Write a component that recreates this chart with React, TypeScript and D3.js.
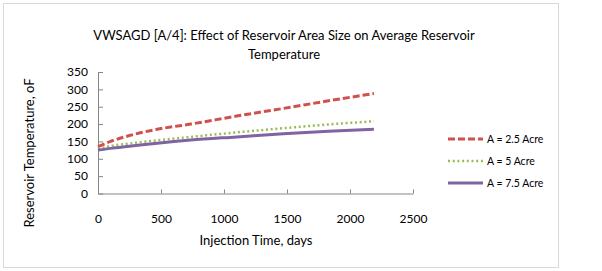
import React, { useEffect, useRef } from 'react';
import * as d3 from 'd3';

// injection time, days
const days = [0, 100, 250, 470, 736, 1100, 1470, 1830, 2190];
// average reservoir temperature, oF
const area25 = [135, 150, 167, 185, 200, 223, 245, 267, 288];
const area5 = [128, 137, 144, 153, 163, 176, 188, 199, 208];
const area75 = [125, 130, 136, 145, 154, 163, 172, 179, 185];

const seriesNames = ['A = 2.5 Acre', 'A = 5 Acre', 'A = 7.5 Acre'];
const xTicks = [0, 500, 1000, 1500, 2000, 2500];
const yTicks = [0, 50, 100, 150, 200, 250, 300, 350];

const titleLines = ['VWSAGD [A/4]: Effect of Reservoir Area Size on Average Reservoir', 'Temperature'];
const xTitle = 'Injection Time, days';
const yTitle = 'Reservoir Temperature, oF';

const FONT = 'Lato, "Open Sans", sans-serif';

const App = () => {
  const ref = useRef<SVGSVGElement>(null);

  useEffect(() => {
    const svg = d3.select(ref.current);
    svg.selectAll('*').remove();

    // chart frame
    svg.append('rect')
      .attr('x', 3.5).attr('y', 3.5)
      .attr('width', 555).attr('height', 264)
      .attr('fill', '#fff')
      .attr('stroke', '#d9d9d9');

    const x = d3.scaleLinear().domain([0, 2500]).range([98, 413]);
    const y = d3.scaleLinear().domain([0, 350]).range([193.5, 72]);

    // axes
    const xAxis = svg.append('g')
      .attr('transform', `translate(0,${y(0)})`)
      .call(d3.axisBottom(x).tickValues(xTicks).tickFormat(d3.format('d'))
        .tickSizeInner(-4).tickSizeOuter(0).tickPadding(21));
    const yAxis = svg.append('g')
      .attr('transform', `translate(${x(0)},0)`)
      .call(d3.axisLeft(y).tickValues(yTicks).tickFormat(d3.format('d'))
        .tickSizeInner(-5).tickSizeOuter(0).tickPadding(10));

    [xAxis, yAxis].forEach(g => {
      g.attr('font-family', FONT).attr('font-size', 12);
      g.select('.domain').attr('stroke', '#868686');
      g.selectAll('.tick line').attr('stroke', '#868686');
      g.selectAll('.tick text').attr('fill', '#000');
    });

    // series
    const series = [
      { name: seriesNames[0], values: area25, color: '#d0504d', width: 3, dash: '7,3' },
      { name: seriesNames[1], values: area5, color: '#9bbb59', width: 2.5, dash: '2,2.7' },
      { name: seriesNames[2], values: area75, color: '#8064a2', width: 3, dash: null },
    ];

    const line = d3.line<number>()
      .x((_, i) => x(days[i]))
      .y(d => y(d))
      .curve(d3.curveMonotoneX);

    series.forEach(s => {
      svg.append('path')
        .datum(s.values)
        .attr('d', line)
        .attr('fill', 'none')
        .attr('stroke', s.color)
        .attr('stroke-width', s.width)
        .attr('stroke-dasharray', s.dash);
    });

    // legend
    const legend = svg.append('g').attr('font-family', FONT).attr('font-size', 10.5);
    series.forEach((s, i) => {
      const ly = 139 + i * 22;
      legend.append('line')
        .attr('x1', 448).attr('x2', 483)
        .attr('y1', ly).attr('y2', ly)
        .attr('stroke', s.color)
        .attr('stroke-width', s.width)
        .attr('stroke-dasharray', s.dash);
      legend.append('text')
        .attr('x', 487).attr('y', ly)
        .attr('dy', '0.35em')
        .text(s.name);
    });

    // titles
    svg.append('text')
      .attr('font-family', FONT).attr('font-size', 13)
      .attr('text-anchor', 'middle')
      .selectAll('tspan')
      .data(titleLines)
      .enter().append('tspan')
      .attr('x', 284)
      .attr('y', (_, i) => 40 + i * 19)
      .text(d => d);

    svg.append('text')
      .attr('font-family', FONT).attr('font-size', 13)
      .attr('text-anchor', 'middle')
      .attr('x', 256).attr('y', 245)
      .text(xTitle);

    svg.append('text')
      .attr('font-family', FONT).attr('font-size', 13)
      .attr('text-anchor', 'middle')
      .attr('transform', 'translate(34,153) rotate(-90)')
      .text(yTitle);
  }, []);

  return (
    <svg ref={ref} width={602} height={271}
      style={{ position: 'absolute', left: 0, top: 0, background: '#fff' }} />
  );
};

export default App;
